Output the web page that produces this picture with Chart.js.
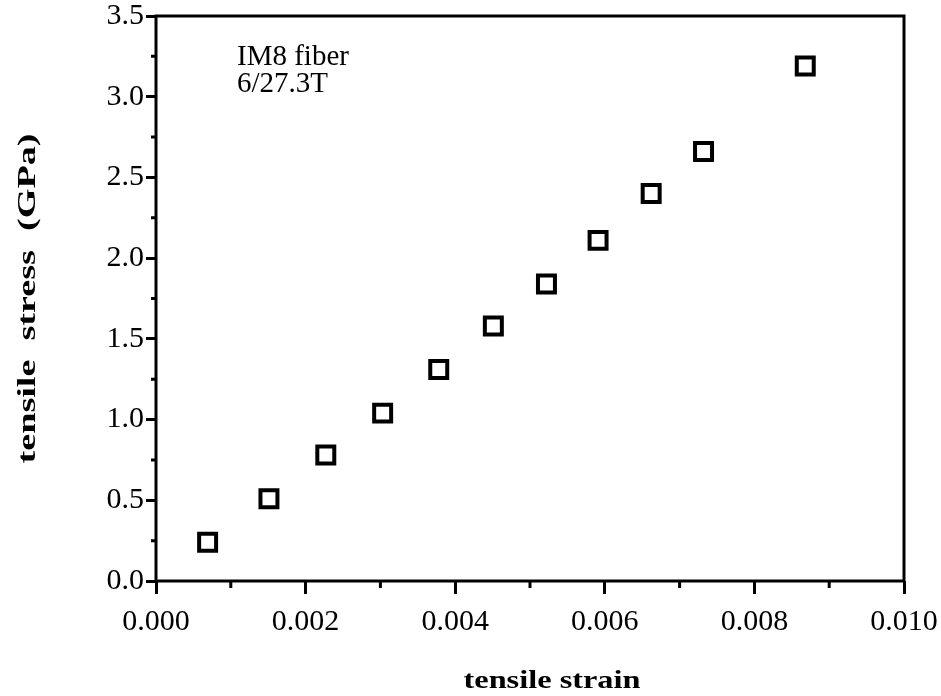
<!DOCTYPE html>
<html>
<head>
<meta charset="utf-8">
<script src="https://cdn.jsdelivr.net/npm/chart.js@4/dist/chart.umd.min.js"></script>
<style>
  html, body { margin: 0; padding: 0; background: #fff; }
  #wrap { width: 941px; height: 696px; }
</style>
</head>
<body>
<div id="wrap"><canvas id="myChart"></canvas></div>
<script>
const strain = [0.00069, 0.00151, 0.00227, 0.00303, 0.00378, 0.00451, 0.00522, 0.00591, 0.00662, 0.00732, 0.00868];
const stress = [0.24, 0.51, 0.78, 1.04, 1.31, 1.58, 1.84, 2.11, 2.40, 2.66, 3.19];
const xTicks = [0, 0.002, 0.004, 0.006, 0.008, 0.010];
const yTicks = [0, 0.5, 1.0, 1.5, 2.0, 2.5, 3.0, 3.5];
const xMinor = [0.001, 0.003, 0.005, 0.007, 0.009];
const yMinor = [0.25, 0.75, 1.25, 1.75, 2.25, 2.75, 3.25];
const note = ['IM8 fiber', '6/27.3T'];
const xTitle = 'tensile strain';
const yTitle = 'tensile  stress  (GPa)';

const serif = '"Liberation Serif", "Times New Roman", serif';

// stretched text, the scanned figure has wide axis titles
function wideText(c, text, x, y, width, rot) {
  c.save();
  c.translate(x, y);
  if (rot) c.rotate(rot);
  const w = c.measureText(text).width;
  c.scale(width / w, 1);
  c.textAlign = 'center';
  c.fillText(text, 0, 0);
  c.restore();
}

const boxAndTicks = {
  id: 'boxAndTicks',
  afterDraw(chart) {
    const c = chart.ctx;
    const a = chart.chartArea;
    const x = chart.scales.x, y = chart.scales.y;
    c.save();
    c.strokeStyle = '#000';
    c.lineWidth = 3;
    c.strokeRect(a.left, a.top, a.right - a.left, a.bottom - a.top);
    c.beginPath();
    xMinor.forEach(v => {
      const px = x.getPixelForValue(v);
      c.moveTo(px, a.bottom);
      c.lineTo(px, a.bottom + 7);
    });
    yMinor.forEach(v => {
      const py = y.getPixelForValue(v);
      c.moveTo(a.left, py);
      c.lineTo(a.left - 5, py);
    });
    c.stroke();

    c.fillStyle = '#000';
    c.textBaseline = 'alphabetic';
    c.font = '29px ' + serif;
    c.fillText(note[0], 237, 65);
    c.fillText(note[1], 237, 92);

    c.font = 'bold 25px ' + serif;
    wideText(c, xTitle, (a.left + a.right) / 2 + 22, 688, 177, 0);
    wideText(c, yTitle, 35, (a.top + a.bottom) / 2, 330, -Math.PI / 2);
    c.restore();
  }
};

new Chart(document.getElementById('myChart'), {
  type: 'scatter',
  data: {
    datasets: [{
      data: strain.map((s, i) => ({ x: s, y: stress[i] })),
      pointStyle: 'rect',
      pointRadius: 12,
      pointHoverRadius: 12,
      borderWidth: 4,
      borderColor: '#000',
      backgroundColor: '#fff'
    }]
  },
  options: {
    responsive: true,
    maintainAspectRatio: false,
    animation: false,
    layout: { padding: { top: 16, right: 37, left: 0, bottom: 0 } },
    plugins: {
      legend: { display: false },
      tooltip: { enabled: false }
    },
    scales: {
      x: {
        type: 'linear',
        min: 0,
        max: 0.010,
        afterBuildTicks: s => { s.ticks = xTicks.map(v => ({ value: v })); },
        afterFit: s => { s.height = 115; s.paddingLeft = 0; s.paddingRight = 0; },
        border: { display: false },
        grid: { drawOnChartArea: false, drawTicks: true, tickLength: 13, tickWidth: 3, tickColor: '#000' },
        ticks: {
          color: '#000',
          padding: 10,
          maxRotation: 0,
          font: { family: serif, size: 30 },
          callback: v => v.toFixed(3)
        }
      },
      y: {
        type: 'linear',
        min: 0,
        max: 3.5,
        afterBuildTicks: s => { s.ticks = yTicks.map(v => ({ value: v })); },
        afterFit: s => { s.width = 156; s.paddingTop = 0; s.paddingBottom = 0; },
        border: { display: false },
        grid: { drawOnChartArea: false, drawTicks: true, tickLength: 10, tickWidth: 3, tickColor: '#000' },
        ticks: {
          color: '#000',
          padding: 2,
          font: { family: serif, size: 30 },
          callback: v => v.toFixed(1)
        }
      }
    }
  },
  plugins: [boxAndTicks]
});
</script>
</body>
</html>
